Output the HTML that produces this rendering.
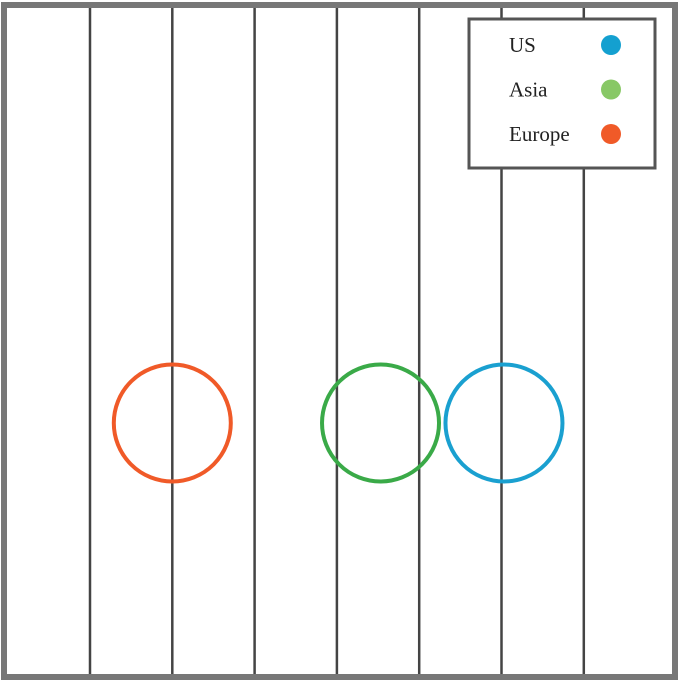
<!DOCTYPE html>
<html><head><meta charset="utf-8"><style>
html,body{margin:0;padding:0;background:#fff;}
svg{display:block;font-family:"Liberation Serif",serif;}
</style></head><body>
<svg id="chart" width="680" height="683">
<g id="grid"></g>
<g id="marks"></g>
<rect x="4" y="5" width="671" height="672" fill="none" stroke="#777" stroke-width="6"/>
<g>
<rect x="469" y="19" width="186" height="149" fill="#fff" stroke="#555" stroke-width="3"/>
<g id="legend-items"></g>
</g>
</svg>
<script>
const categories = ["US", "Asia", "Europe"];
const xValues = [6.03, 4.53, 2.0];
const yValues = [0.5, 0.5, 0.5];
const colors = ["#1aa0d0", "#3aaa48", "#f05a28"];
const legendColors = ["#14a0d0", "#88c866", "#f05a28"];
const gridTicks = [1, 2, 3, 4, 5, 6, 7];
const NS = "http://www.w3.org/2000/svg";
function xScale(v){ return 7.7 + 82.3 * v; }
function yScale(v){ return 846 - 846 * v; }
const grid = document.getElementById("grid");
gridTicks.forEach(t => {
  const l = document.createElementNS(NS, "line");
  
  
  const x = xScale(t);
  l.setAttribute("x1", x); l.setAttribute("x2", x);
  l.setAttribute("y1", 5); l.setAttribute("y2", 680);
  l.setAttribute("stroke", "#444"); l.setAttribute("stroke-width", 2.5);
  grid.appendChild(l);
});
const marks = document.getElementById("marks");
categories.forEach((c, i) => {
  const ci = document.createElementNS(NS, "circle");
  
  
  ci.setAttribute("cx", xScale(xValues[i]));
  ci.setAttribute("cy", yScale(yValues[i]));
  ci.setAttribute("r", 58.5);
  ci.setAttribute("fill", "none");
  ci.setAttribute("stroke", colors[i]);
  ci.setAttribute("stroke-width", 4);
  marks.appendChild(ci);
});
const leg = document.getElementById("legend-items");
categories.forEach((c, i) => {
  const y = 45 + i * 44.5;
  const t = document.createElementNS(NS, "text");
  
  
  t.setAttribute("x", 509); t.setAttribute("y", y + 7);
  t.setAttribute("font-size", 21); t.setAttribute("fill", "#222");
  t.textContent = c;
  leg.appendChild(t);
  const d = document.createElementNS(NS, "circle");
  
  
  d.setAttribute("cx", 611); d.setAttribute("cy", y); d.setAttribute("r", 10);
  d.setAttribute("fill", legendColors[i]);
  leg.appendChild(d);
});
</script>
</body></html>
